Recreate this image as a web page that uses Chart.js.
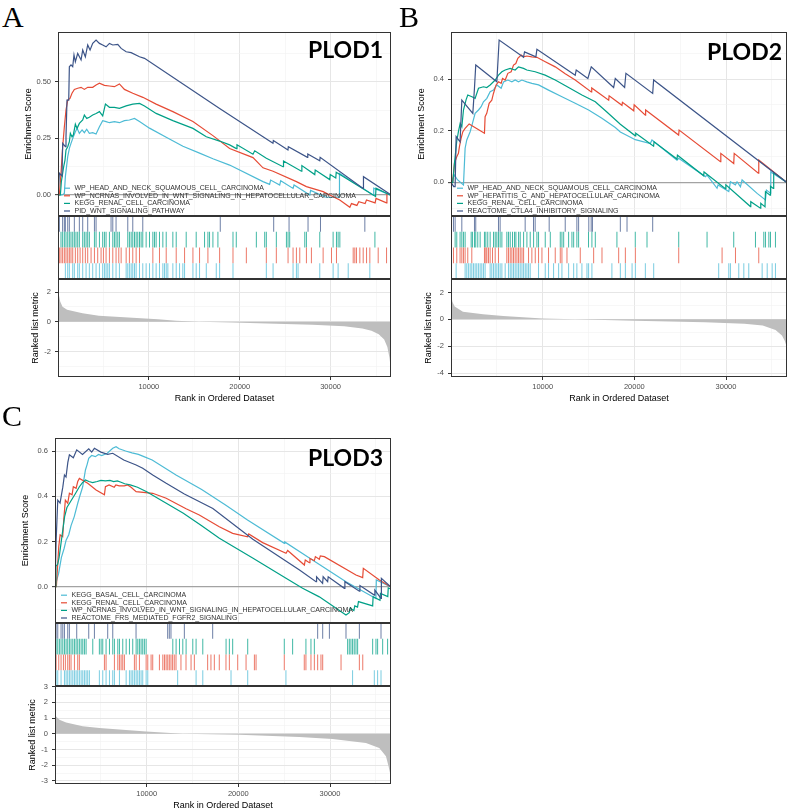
<!DOCTYPE html>
<html>
<head>
<meta charset="utf-8">
<script src="https://cdn.jsdelivr.net/npm/chart.js@4.4.0/dist/chart.umd.min.js"></script>
<style>
  body { margin: 0; background: #fff; width: 789px; height: 811px; position: relative; overflow: hidden; }
  canvas { position: absolute; }
  .tag { position: absolute; font-family: 'Liberation Serif', 'Times New Roman', serif; font-size: 30px; line-height: 1; color: #000; }
  .gene { position: absolute; font-family: Lato, 'Liberation Sans', sans-serif; font-weight: 700; font-size: 23px; line-height: 1; color: #000; white-space: nowrap; }
</style>
</head>
<body>
<script>
// x axis (rank in ordered dataset)
const rankMax = 36650;
const rankGrid = [5000, 10000, 15000, 20000, 25000, 30000, 35000];
const rankLabels = [10000, 20000, 30000];

// gene set colours: first legend entry .. last legend entry
const setColors = ['#4DBBD5', '#E64B35', '#00A087', '#3C5488'];
const hitColors = ['rgba(77,187,213,0.75)', 'rgba(230,75,53,0.75)', 'rgba(0,160,135,0.75)', 'rgba(60,84,136,0.75)'];

// ---------- A : PLOD1 ----------
const aSets = ['WP_HEAD_AND_NECK_SQUAMOUS_CELL_CARCINOMA', 'WP_NCRNAS_INVOLVED_IN_WNT_SIGNALING_IN_HEPATOCELLULAR_CARCINOMA', 'KEGG_RENAL_CELL_CARCINOMA', 'PID_WNT_SIGNALING_PATHWAY'];
const aEsCyan = [[0,0],[440,0],[700,0.007],[810,0.081],[1070,0.169],[1250,0.206],[1430,0.228],[1690,0.257],[1910,0.279],[2100,0.294],[2350,0.272],[2650,0.287],[2900,0.275],[3160,0.29],[3450,0.272],[3820,0.275],[4190,0.269],[4560,0.301],[4920,0.328],[5290,0.324],[5660,0.319],[6210,0.324],[6760,0.319],[7310,0.328],[7860,0.331],[8420,0.338],[8970,0.324],[10070,0.295],[11910,0.255],[13750,0.215],[15580,0.185],[17050,0.16],[18890,0.132],[22560,0.059],[23290,0.047],[23400,0.066],[24400,0.044],[24510,0.063],[25870,0.029],[25980,0.044],[27710,0],[27800,0.02],[29500,-0.01],[30940,-0.01],[30980,0.096],[34690,0],[34750,0.03],[36550,0]];
const aEsRed = [[0,0],[150,0],[330,0.096],[515,0.213],[700,0.301],[880,0.375],[1070,0.419],[1320,0.426],[1540,0.449],[1800,0.466],[2170,0.471],[2540,0.475],[2900,0.466],[3270,0.475],[3820,0.475],[4190,0.485],[4560,0.493],[5110,0.484],[5660,0.481],[6210,0.478],[6760,0.49],[7310,0.466],[8230,0.449],[9340,0.431],[10800,0.401],[12640,0.368],[14850,0.324],[17050,0.262],[18890,0.205],[21460,0.165],[22560,0.12],[23670,0.105],[26240,0.059],[27340,0.037],[29180,0.015],[29910,0],[31010,-0.022],[32120,-0.054],[32300,-0.038],[32900,-0.046],[33100,-0.03],[33800,-0.038],[33950,-0.022],[34900,-0.035],[35000,-0.015],[36150,-0.035],[36200,0.01]];
const aEsTeal = [[0,0],[260,0],[370,0.059],[515,0.096],[625,0.125],[770,0.154],[880,0.199],[1070,0.213],[1250,0.235],[1360,0.272],[1540,0.257],[1690,0.265],[1910,0.313],[2100,0.294],[2350,0.316],[2720,0.331],[2900,0.353],[3160,0.338],[3450,0.343],[3820,0.353],[4190,0.36],[4560,0.368],[4920,0.349],[5220,0.401],[5660,0.387],[6210,0.387],[6760,0.382],[7500,0.393],[8230,0.401],[8970,0.404],[9520,0.393],[10800,0.36],[12640,0.328],[14850,0.294],[16320,0.257],[17790,0.238],[18890,0.221],[19630,0.205],[19700,0.222],[21460,0.18],[21650,0.195],[22930,0.162],[24770,0.125],[24820,0.15],[26790,0.105],[26840,0.13],[28260,0.09],[28310,0.11],[29910,0.068],[29960,0.09],[30570,0.075],[30620,0.1],[34950,-0.007],[35000,0.03],[36550,0]];
const aEsNavy = [[0,0],[150,0.096],[440,0.084],[515,0.228],[810,0.213],[880,0.257],[990,0.419],[1180,0.419],[1250,0.566],[1430,0.574],[1620,0.566],[1760,0.618],[1910,0.588],[2170,0.625],[2540,0.596],[2720,0.64],[3010,0.61],[3270,0.662],[3530,0.64],[3820,0.669],[4190,0.684],[4560,0.669],[4920,0.662],[5290,0.654],[5660,0.669],[6030,0.662],[6580,0.665],[6950,0.647],[7500,0.632],[8050,0.628],[8970,0.61],[9520,0.603],[17790,0.382],[23660,0.228],[23700,0.24],[25310,0.199],[25350,0.213],[27450,0.166],[27490,0.181],[28810,0.151],[28850,0.166],[33580,0.029],[33620,0.081],[36550,0.003]];
const aHitsCyan = [810,1070,1250,1620,1800,2170,2350,2720,3090,3450,3820,4190,4560,4920,5110,5290,5480,5660,6030,6390,6760,7500,7680,7860,8050,8230,8420,8600,8970,9330,9700,10070,10440,10800,11170,11540,11720,11910,12090,12640,13010,13380,13740,13930,14850,15210,15580,16320,17420,17790,19260,22930,23670,25870,26240,26420,28810,30280,30830,31940,34320];
const aHitsRed = [150,330,510,700,880,1070,1250,1430,1620,1910,2170,2430,2720,3010,3270,3640,4010,4370,4740,5000,5290,5660,6030,6390,6690,6950,7500,7860,8230,8600,8970,10440,11170,11910,13010,13930,14850,15580,16500,17790,19260,20730,22930,24030,25320,25870,26240,26610,27340,27890,29180,30100,30650,32490,32670,32850,33220,33590,33960,34320,35240,36160];
const aHitsTeal = [330,510,700,880,1070,1250,1430,1620,1800,1980,2170,2350,2720,2900,3090,3270,3450,4010,4190,4560,4920,5110,5290,5660,6030,6210,6390,6580,6760,7680,7860,8050,8230,8420,8600,8780,8970,9150,9330,9700,10070,10440,10620,10800,11170,11540,11910,12640,13010,14110,15210,16130,16500,16680,17050,17600,19260,19620,21830,22750,22930,24030,25140,25320,25500,27160,27340,28810,30280,30650,30830,31020,34880];
const aHitsNavy = [150,510,700,810,1070,1250,1800,2350,2720,3270,4010,4190,5840,6030,6390,7680,8230,9330,17860,23740,25430,27520,28890,33770];
const aMetric = [[0,2.3],[100,1.8],[250,1.35],[500,1.0],[1000,0.8],[2700,0.57],[4500,0.41],[8200,0.27],[11000,0.16],[13000,0.06],[15500,0],[19200,-0.06],[24000,-0.13],[28000,-0.2],[31500,-0.3],[33500,-0.45],[34500,-0.6],[35300,-0.85],[35900,-1.2],[36250,-1.7],[36480,-2.4],[36650,-3.3]];
const aEsGrid = [0, 0.125, 0.25, 0.375, 0.5, 0.625];
const aEsMajor = [0, 0.25, 0.5];
const aEsText = ['0.00', '0.25', '0.50'];
const aMetricGrid = [-3, -2, -1, 0, 1, 2];
const aMetricMajor = [-2, 0, 2];
const aMetricText = ['-2', '0', '2'];

// ---------- B : PLOD2 ----------
const bSets = ['WP_HEAD_AND_NECK_SQUAMOUS_CELL_CARCINOMA', 'WP_HEPATITIS_C_AND_HEPATOCELLULAR_CARCINOMA', 'KEGG_RENAL_CELL_CARCINOMA', 'REACTOME_CTLA4_INHIBITORY_SIGNALING'];
const bEsCyan = [[0,0],[375,0.028],[700,0.01],[1360,-0.01],[1540,0.132],[1720,0.164],[2090,0.196],[2340,0.228],[2630,0.267],[3000,0.28],[3290,0.293],[3540,0.312],[3910,0.325],[4270,0.351],[4630,0.357],[5000,0.377],[5470,0.364],[5730,0.389],[6200,0.396],[6640,0.389],[7000,0.396],[7360,0.389],[7730,0.396],[8270,0.389],[8820,0.383],[9550,0.377],[10640,0.357],[12100,0.331],[13550,0.306],[15010,0.28],[16460,0.248],[17920,0.212],[18470,0.195],[20100,0.165],[21740,0.15],[21920,0.164],[24650,0.086],[24830,0.093],[27750,0.022],[27930,0.028],[29020,-0.023],[29130,-0.01],[30300,-0.036],[30480,0.002],[31020,-0.01],[31200,0.002],[31570,-0.017],[31750,0.009],[33390,-0.043],[34300,-0.068],[34410,-0.03],[34840,-0.042],[34880,0.04],[36600,0]];
const bEsRed = [[0,0],[180,0],[376,0.074],[630,0.099],[810,0.112],[920,0.138],[1100,0.17],[1290,0.196],[1540,0.209],[1980,0.226],[3650,0.19],[3720,0.254],[3900,0.267],[4160,0.306],[4450,0.318],[4630,0.344],[4920,0.377],[5180,0.389],[5470,0.383],[5620,0.402],[5910,0.396],[6200,0.422],[6560,0.428],[6820,0.454],[7070,0.46],[7290,0.48],[7650,0.493],[7910,0.486],[8270,0.489],[8820,0.486],[9370,0.484],[10280,0.467],[11370,0.447],[12460,0.42],[13550,0.396],[15300,0.35],[15350,0.365],[17200,0.318],[17250,0.335],[18650,0.298],[18700,0.31],[19930,0.277],[19980,0.3],[21200,0.26],[21230,0.28],[24830,0.183],[24880,0.202],[29390,0.08],[29430,0.112],[30840,0.073],[30890,0.112],[33520,0.035],[33570,0.086],[36600,0]];
const bEsTeal = [[0,0],[200,0],[376,0.074],[630,0.16],[810,0.196],[1000,0.228],[1180,0.215],[1360,0.28],[1650,0.32],[1830,0.338],[2280,0.331],[2630,0.325],[3000,0.364],[3540,0.37],[3900,0.367],[4270,0.377],[4820,0.396],[5180,0.415],[5550,0.428],[5910,0.435],[6450,0.441],[7000,0.435],[7360,0.447],[7910,0.441],[8270,0.435],[9180,0.428],[10270,0.415],[11370,0.396],[12830,0.367],[14280,0.338],[15740,0.312],[17000,0.272],[18470,0.225],[20100,0.18],[20150,0.19],[22100,0.14],[22150,0.157],[24650,0.09],[24700,0.105],[27560,0.025],[27600,0.04],[29930,-0.025],[29980,-0.01],[32660,-0.094],[32700,-0.075],[33750,-0.1],[33790,-0.081],[34250,-0.095],[34300,-0.036],[34800,-0.05],[34850,-0.015],[35150,-0.024],[35200,0.037],[36600,0]];
const bEsNavy = [[0,0],[300,-0.017],[450,-0.017],[560,0.177],[990,0.157],[1180,0.318],[2380,0.267],[2560,0.364],[2700,0.454],[5000,0.389],[5250,0.551],[7910,0.484],[8020,0.505],[9260,0.486],[9370,0.515],[13550,0.415],[13660,0.435],[14930,0.402],[15300,0.447],[17740,0.367],[17920,0.402],[18940,0.367],[19080,0.422],[22000,0.344],[22100,0.396],[36600,0]];
const bHitsCyan = [560,1540,1720,1900,2090,2270,2450,2630,2810,2990,3180,3360,3540,3720,4270,4450,4640,4820,5000,5180,5360,5550,5910,6270,6460,6640,6820,7000,7190,7370,7550,7740,7920,8100,8280,8460,8640,9550,10280,10640,11190,11740,12100,12830,13380,13730,14280,14830,15010,15370,17550,18470,19020,19750,20110,21200,22110,29200,30300,30480,31390,31940,32480,33940,34490,35030,35390];
const bHitsRed = [270,630,990,1180,1360,1540,1830,2270,3650,3800,3910,4090,4270,4530,4820,5180,6090,6270,6460,6640,6820,7000,7190,7370,7550,7740,7920,8460,8820,9190,9550,9920,10640,11370,11920,12100,12650,14100,15560,16470,18290,19020,20110,24840,29570,31030,33570];
const bHitsTeal = [450,630,990,1180,1360,1540,2200,2340,2560,2700,2920,3180,3650,3800,4010,4270,4640,4820,5000,5180,5360,5550,6090,6270,6460,6710,6930,7080,7370,7550,7920,8280,8640,9010,9370,9550,10280,10830,11920,12100,12290,12830,13190,13380,13730,13920,15000,15370,15740,18100,20100,21380,24840,27930,30840,33210,34120,34300,34670,34850,35390];
const bHitsNavy = [270,450,1180,2560,2700,5180,5360,8090,9000,9180,10710,12460,13730,13920,15030,15290,15430,18470,19200,22000];
const bMetric = [[0,1.9],[150,1.3],[400,0.95],[1300,0.57],[3500,0.37],[5700,0.25],[10000,0.07],[13500,0],[20000,-0.1],[27700,-0.22],[32000,-0.33],[34000,-0.45],[35400,-0.8],[36100,-1.2],[36400,-1.6],[36650,-2.1]];
const bEsGrid = [-0.1, 0, 0.1, 0.2, 0.3, 0.4, 0.5];
const bEsMajor = [0, 0.2, 0.4];
const bEsText = ['0.0', '0.2', '0.4'];
const bMetricGrid = [-4, -3, -2, -1, 0, 1, 2];
const bMetricMajor = [-4, -2, 0, 2];
const bMetricText = ['-4', '-2', '0', '2'];

// ---------- C : PLOD3 ----------
const cSets = ['KEGG_BASAL_CELL_CARCINOMA', 'KEGG_RENAL_CELL_CARCINOMA', 'WP_NCRNAS_INVOLVED_IN_WNT_SIGNALING_IN_HEPATOCELLULAR_CARCINOMA', 'REACTOME_FRS_MEDIATED_FGFR2_SIGNALING'];
const cEsCyan = [[0,0],[400,0.06],[700,0.13],[1000,0.17],[1210,0.206],[1500,0.23],[1750,0.27],[2100,0.31],[2480,0.369],[2700,0.4],[3020,0.442],[3320,0.516],[3500,0.54],[3680,0.568],[4000,0.58],[4400,0.575],[4750,0.585],[5100,0.58],[5700,0.59],[6300,0.612],[6660,0.619],[7000,0.61],[7700,0.6],[8400,0.592],[9100,0.585],[9700,0.575],[10600,0.56],[13200,0.494],[16000,0.43],[18640,0.36],[21000,0.295],[25020,0.192],[25060,0.198],[28000,0.12],[31740,0.022],[35000,-0.052],[35050,0.03],[36600,0]];
const cEsRed = [[0,0],[150,0],[410,0.177],[560,0.229],[840,0.221],[950,0.295],[1130,0.383],[1390,0.369],[1570,0.413],[1860,0.406],[2000,0.442],[2300,0.435],[2480,0.465],[2660,0.479],[3570,0.457],[4480,0.428],[5390,0.406],[5500,0.442],[5900,0.45],[6460,0.44],[6640,0.45],[7000,0.446],[7560,0.446],[7920,0.45],[8300,0.44],[8850,0.42],[10660,0.413],[12130,0.391],[14300,0.345],[15740,0.317],[17920,0.265],[19380,0.236],[21020,0.221],[21130,0.233],[22650,0.195],[25200,0.148],[25380,0.16],[27200,0.096],[27300,0.118],[27740,0.106],[27810,0.125],[28290,0.115],[28400,0.133],[28830,0.121],[28940,0.136],[29380,0.133],[32830,0.052],[33560,0.04],[33630,0.081],[35380,0.03],[36600,0]];
const cEsTeal = [[0,0],[100,0.09],[300,0.1],[450,0.13],[650,0.19],[850,0.25],[1050,0.31],[1300,0.35],[1600,0.37],[1900,0.39],[2200,0.41],[2660,0.442],[3000,0.46],[3320,0.472],[3700,0.465],[4100,0.46],[4600,0.465],[5000,0.47],[5500,0.468],[6000,0.47],[6400,0.465],[6800,0.468],[7200,0.462],[7600,0.455],[8200,0.45],[9000,0.44],[10000,0.42],[12000,0.372],[14000,0.325],[16000,0.27],[17930,0.214],[21560,0.127],[25200,0.037],[27010,-0.007],[28830,-0.045],[31740,-0.125],[32100,-0.115],[32200,-0.095],[32600,-0.105],[32700,-0.085],[33000,-0.09],[33100,-0.066],[34650,-0.085],[34700,-0.044],[35450,-0.06],[35500,-0.03],[36300,-0.044],[36350,-0.005],[36600,-0.01]];
const cEsNavy = [[0,0],[120,0.2],[300,0.383],[550,0.37],[850,0.44],[1030,0.494],[1200,0.485],[1400,0.55],[1570,0.583],[2000,0.57],[2370,0.605],[3000,0.585],[3680,0.61],[4000,0.595],[4300,0.612],[5000,0.595],[5750,0.585],[6300,0.59],[7500,0.56],[8850,0.538],[9570,0.524],[10660,0.494],[12130,0.457],[14110,0.41],[17220,0.346],[21580,0.21],[26670,0.074],[28470,0.022],[28530,0.044],[29190,0.015],[29250,0.044],[29740,0.022],[29800,0.044],[31560,-0.007],[31620,0.022],[33200,-0.02],[33260,0.005],[34830,-0.037],[34890,-0.015],[35560,-0.052],[35600,0.037],[36600,0]];
const cHitsCyan = [120,300,660,1030,1210,1390,1570,1750,1940,2120,2300,2480,2660,2850,3030,3210,3390,3570,3750,4840,5210,5570,5940,6300,6480,7030,7760,8120,8300,8480,8660,8850,9030,9210,9390,9570,9940,10120,13380,15390,16120,19200,21020,25190,32460,34830,35190,35560];
const cHitsRed = [120,410,660,920,1130,1390,1570,1750,2120,2480,2660,5390,5570,6480,6850,7030,7210,7390,7570,8660,8850,9210,9940,10120,10480,10660,11390,11760,11940,12120,12300,12470,12650,12830,13010,13200,13740,14290,14840,15200,16650,17010,17380,17920,18650,19020,19930,20840,21750,21930,25010,27190,27370,27920,28290,28650,29010,29200,31200,33200,33570];
const cHitsTeal = [120,300,480,660,850,1030,1210,1390,1570,1750,1940,2120,2300,2480,2660,2850,3030,3210,3390,4120,4840,5030,5210,5570,5940,6300,6480,6850,7030,7390,7760,8120,8480,8850,9030,9210,9390,9570,9750,9940,12850,13210,13580,13940,14300,15030,15390,16120,18660,19020,19380,21020,25010,25920,27370,27920,28290,31920,32100,32280,32460,32640,32830,33010,34650,35010,35190,35740,36280];
const cHitsNavy = [120,300,660,850,1030,1390,1570,2370,3680,4300,5750,6300,8840,12290,12470,12650,14110,17200,28650,29200,29930,31740,33200,35560];
const cMetric = [[0,2.0],[60,1.53],[120,1.1],[480,0.89],[1210,0.72],[3020,0.47],[4840,0.36],[9930,0.15],[13930,0],[20100,-0.06],[26650,-0.21],[30280,-0.34],[33920,-0.59],[35370,-0.91],[36100,-1.44],[36390,-2.08],[36650,-2.8]];
const cEsGrid = [-0.1, 0, 0.1, 0.2, 0.3, 0.4, 0.5, 0.6];
const cEsMajor = [0, 0.2, 0.4, 0.6];
const cEsText = ['0.0', '0.2', '0.4', '0.6'];
const cMetricGrid = [-3, -2.5, -2, -1.5, -1, -0.5, 0, 0.5, 1, 1.5, 2, 2.5, 3];
const cMetricMajor = [-3, -2, -1, 0, 1, 2, 3];
const cMetricText = ['-3', '-2', '-1', '0', '1', '2', '3'];

// panel layout (pixels) and axis ranges
const panels = [
  { tag: 'A', tagPos: [2, 2], gene: 'PLOD1', geneRight: 383, geneTop: 38,
    box: { left: 58, right: 391, top: 32, esBottom: 216, hitBottom: 279, bottom: 377 },
    sets: aSets, es: [aEsCyan, aEsRed, aEsTeal, aEsNavy], hits: [aHitsCyan, aHitsRed, aHitsTeal, aHitsNavy],
    metric: aMetric, esRange: [-0.0927, 0.7193], esGrid: aEsGrid, esMajor: aEsMajor, esText: aEsText,
    mRange: [-3.72, 2.875], mGrid: aMetricGrid, mMajor: aMetricMajor, mText: aMetricText },
  { tag: 'B', tagPos: [399, 2], gene: 'PLOD2', geneRight: 782, geneTop: 40,
    box: { left: 451, right: 787, top: 32, esBottom: 216, hitBottom: 279, bottom: 377 },
    sets: bSets, es: [bEsCyan, bEsRed, bEsTeal, bEsNavy], hits: [bHitsCyan, bHitsRed, bHitsTeal, bHitsNavy],
    metric: bMetric, esRange: [-0.1305, 0.582], esGrid: bEsGrid, esMajor: bEsMajor, esText: bEsText,
    mRange: [-4.29, 3.0], mGrid: bMetricGrid, mMajor: bMetricMajor, mText: bMetricText },
  { tag: 'C', tagPos: [2, 401], gene: 'PLOD3', geneRight: 383, geneTop: 446,
    box: { left: 55, right: 391, top: 438, esBottom: 623, hitBottom: 686, bottom: 784 },
    sets: cSets, es: [cEsCyan, cEsRed, cEsTeal, cEsNavy], hits: [cHitsCyan, cHitsRed, cHitsTeal, cHitsNavy],
    metric: cMetric, esRange: [-0.1605, 0.6575], esGrid: cEsGrid, esMajor: cEsMajor, esText: cEsText,
    mRange: [-3.2, 3.04], mGrid: cMetricGrid, mMajor: cMetricMajor, mText: cMetricText }
];

Chart.defaults.font.family = "'Liberation Sans', Arial, sans-serif";
Chart.defaults.animation = false;
Chart.defaults.events = [];
Chart.defaults.plugins.legend.display = false;
Chart.defaults.plugins.tooltip.enabled = false;
Chart.defaults.layout.autoPadding = false;

const tickFont = { size: 7.5 };
const titleFont = { size: 9 };
const axisW = 40;
const pad = 10;

function tickText(v, major, text) {
  const k = major.indexOf(v);
  return k >= 0 ? text[k] : '';
}

// ggplot-like grid: major lines, thinner minor lines, optional grey zero line
function gridStyle(major, zeroLine) {
  const isMajor = c => c.tick && major.includes(c.tick.value);
  const isZero = c => zeroLine && c.tick && c.tick.value === 0;
  return {
    color: c => isZero(c) ? '#a3a3a3' : isMajor(c) ? '#e6e6e6' : '#f1f1f1',
    lineWidth: c => isZero(c) ? 1.3 : isMajor(c) ? 1 : 0.6,
    tickColor: c => isMajor(c) ? '#333333' : 'rgba(0,0,0,0)',
    tickLength: 3,
    tickWidth: 1
  };
}

const frame = {
  id: 'frame',
  afterDraw(chart) {
    const { ctx, chartArea: a } = chart;
    ctx.save();
    ctx.strokeStyle = '#333333';
    ctx.lineWidth = 1;
    ctx.strokeRect(a.left + 0.5, a.top + 0.5, a.right - a.left - 1, a.bottom - a.top - 1);
    ctx.restore();
  }
};

const setLegend = {
  id: 'setLegend',
  afterDatasetsDraw(chart, args, opts) {
    const { ctx, chartArea: a } = chart;
    const n = opts.names.length;
    ctx.save();
    ctx.font = "7px 'Liberation Sans', Arial, sans-serif";
    ctx.textBaseline = 'middle';
    opts.names.forEach((name, i) => {
      const y = a.bottom - 5 - (n - 1 - i) * 7.6;
      ctx.strokeStyle = setColors[i];
      ctx.lineWidth = 1.2;
      ctx.beginPath();
      ctx.moveTo(a.left + 6, y);
      ctx.lineTo(a.left + 12, y);
      ctx.stroke();
      ctx.fillStyle = '#333333';
      ctx.fillText(name, a.left + 16.5, y);
    });
    ctx.restore();
  }
};

function addCanvas(left, top, width, height) {
  const c = document.createElement('canvas');
  c.width = width;
  c.height = height;
  c.style.left = left + 'px';
  c.style.top = top + 'px';
  c.style.width = width + 'px';
  c.style.height = height + 'px';
  document.body.appendChild(c);
  return c;
}

function addText(text, cls, css) {
  const d = document.createElement('div');
  d.className = cls;
  d.textContent = text;
  Object.assign(d.style, css);
  document.body.appendChild(d);
}

function rankAxis(showLabels) {
  const axis = {
    type: 'linear', min: 0, max: rankMax,
    afterBuildTicks: s => { s.ticks = rankGrid.map(v => ({ value: v })); },
    grid: gridStyle(rankLabels, false),
    border: { display: false }
  };
  if (showLabels) {
    axis.ticks = { autoSkip: false, maxRotation: 0, padding: 2, color: '#4d4d4d', font: tickFont,
      callback: v => tickText(v, rankLabels, rankLabels.map(String)) };
    axis.title = { display: true, text: 'Rank in Ordered Dataset', color: '#000', font: titleFont, padding: { top: 0, bottom: 3.5 } };
    axis.afterFit = s => { s.height = 30; };
  } else {
    axis.ticks = { display: false };
    axis.grid.drawTicks = false;
    axis.afterFit = s => { s.height = 0; };
  }
  return axis;
}

function drawPanel(p) {
  const b = p.box;
  const w = b.right - b.left;

  addText(p.tag, 'tag', { left: p.tagPos[0] + 'px', top: p.tagPos[1] + 'px' });

  // running enrichment score
  const esCanvas = addCanvas(b.left - axisW, b.top - pad, axisW + w + pad, pad + (b.esBottom - b.top) + pad);
  new Chart(esCanvas, {
    type: 'scatter',
    data: {
      datasets: p.es.map((pts, i) => ({
        data: pts.map(([x, y]) => ({ x, y })),
        showLine: true, borderColor: setColors[i], borderWidth: 1.2, pointRadius: 0, order: 3 - i
      }))
    },
    options: {
      responsive: false,
      layout: { padding: { top: pad, right: pad, bottom: pad, left: 0 } },
      scales: {
        x: rankAxis(false),
        y: {
          min: p.esRange[0], max: p.esRange[1],
          afterBuildTicks: s => { s.ticks = p.esGrid.map(v => ({ value: v })); },
          ticks: { autoSkip: false, padding: 4, color: '#4d4d4d', font: tickFont, callback: v => tickText(v, p.esMajor, p.esText) },
          grid: gridStyle(p.esMajor, true),
          border: { display: false },
          title: { display: true, text: 'Enrichment Score', color: '#000', font: titleFont, padding: { top: 5.6, bottom: 0 } },
          afterFit: s => { s.width = axisW; }
        }
      },
      plugins: { setLegend: { names: p.sets } }
    },
    plugins: [frame, setLegend]
  });

  // gene hits
  const hitH = b.hitBottom - b.esBottom;
  const hitCanvas = addCanvas(b.left, b.esBottom, w, hitH);
  new Chart(hitCanvas, {
    type: 'scatter',
    data: {
      datasets: p.hits.map((h, i) => ({
        data: h.map(x => ({ x, y: i + 0.5 })),
        pointStyle: 'line', pointRotation: 90, pointRadius: hitH / 8,
        borderColor: hitColors[i], pointBorderColor: hitColors[i], pointBorderWidth: 1
      }))
    },
    options: {
      responsive: false,
      layout: { padding: 0, autoPadding: false },
      scales: {
        x: { display: false, min: 0, max: rankMax },
        y: { display: false, min: 0, max: 4 }
      }
    },
    plugins: [frame]
  });

  // ranked list metric
  const mCanvas = addCanvas(b.left - axisW, b.hitBottom - pad, axisW + w + pad, pad + (b.bottom - b.hitBottom) + 30);
  new Chart(mCanvas, {
    type: 'scatter',
    data: {
      datasets: [{
        data: p.metric.map(([x, y]) => ({ x, y })),
        showLine: true, fill: 'origin', backgroundColor: '#bebebe', borderColor: '#bebebe', borderWidth: 0, pointRadius: 0
      }]
    },
    options: {
      responsive: false,
      layout: { padding: { top: pad, right: pad, bottom: 0, left: 0 } },
      scales: {
        x: rankAxis(true),
        y: {
          min: p.mRange[0], max: p.mRange[1],
          afterBuildTicks: s => { s.ticks = p.mGrid.map(v => ({ value: v })); },
          ticks: { autoSkip: false, padding: 4, color: '#4d4d4d', font: tickFont, callback: v => tickText(v, p.mMajor, p.mText) },
          grid: gridStyle(p.mMajor, false),
          border: { display: false },
          title: { display: true, text: 'Ranked list metric', color: '#000', font: titleFont, padding: { top: 12.6, bottom: 0 } },
          afterFit: s => { s.width = axisW; }
        }
      }
    },
    plugins: [frame]
  });

  addText(p.gene, 'gene', { right: (789 - p.geneRight) + 'px', top: p.geneTop + 'px' });
}

panels.forEach(drawPanel);
</script>
</body>
</html>
